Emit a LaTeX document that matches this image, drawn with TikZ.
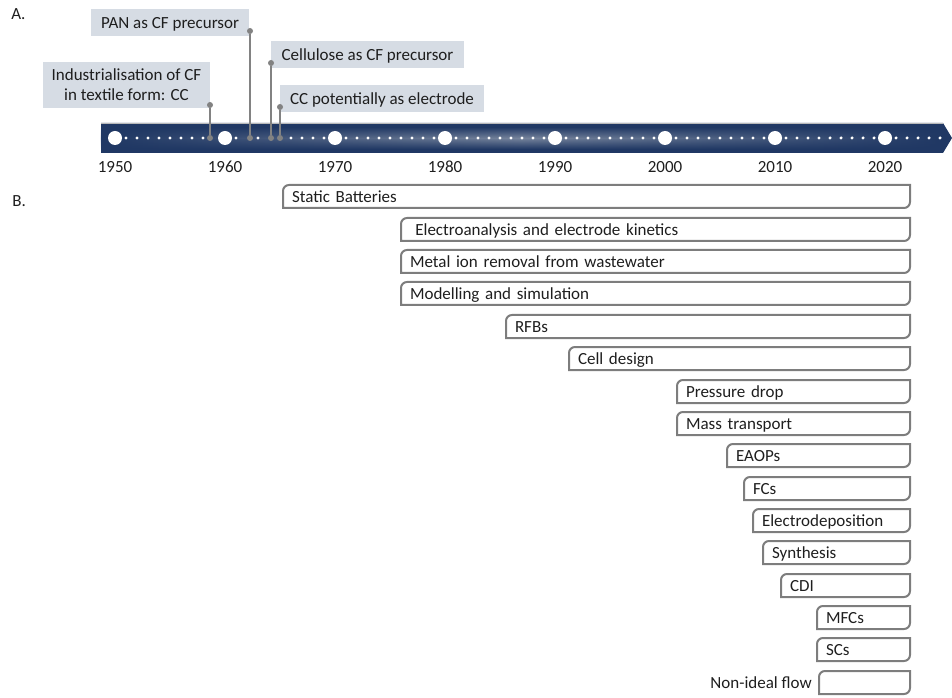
\documentclass[tikz,border=0pt]{standalone}
\usepackage{fontspec}
\setmainfont{Carlito}
\usetikzlibrary{fadings}
\definecolor{navy}{RGB}{32,56,100}
\definecolor{navyhi}{RGB}{118,132,156}
\definecolor{lblfill}{RGB}{214,220,228}
\definecolor{txtc}{RGB}{30,30,30}
\definecolor{msgray}{RGB}{130,130,130}
\definecolor{bargray}{RGB}{125,125,125}
\tikzfading[name=midband, top color=transparent!100, bottom color=transparent!100, middle color=transparent!0]
\newcommand\tlbar[4]{%
  \node[bartext, anchor=north west, text width={(910-#2-18)*0.75pt}] (#1) at (#2,#3) {#4};
  \draw[barline] (#1.south west) -- ([yshift=-4.5pt]#1.north west)
    arc[start angle=180, end angle=90, radius=4.5pt] -- (#1.north east)
    -- ([yshift=4.5pt]#1.south east) arc[start angle=0, end angle=-90, radius=4.5pt] -- cycle;}
\begin{document}
\begin{tikzpicture}[x=0.75pt,y=-0.75pt,
  every node/.style={text=txtc, font=\fontsize{12.75}{15}\selectfont},
  lbl/.style={fill=lblfill, inner sep=0pt, outer sep=0pt, align=center},
  oneline/.style={text height=9pt, text depth=0pt},
  yrlbl/.style={inner sep=0pt, anchor=base},
  bartext/.style={inner xsep=6.75pt, inner ysep=0pt, outer sep=0pt, minimum height=17.25pt, text height=9pt, text depth=0pt, align=left},
  barline/.style={draw=bargray, line width=1.5pt},
  msline/.style={draw=msgray, line width=1.1pt},
  msdot/.style={circle, fill=msgray, inner sep=0pt, minimum size=4.5pt},
  bigdot/.style={circle, fill=white, inner sep=0pt, minimum size=10.5pt},
]
\useasboundingbox (0,0) rectangle (952,698);

% section labels
\node[inner sep=0pt, anchor=base west] (secA) at (11,20) {A.};
\node[inner sep=0pt, anchor=base west] (secB) at (12,207) {B.};

% timeline bar
\fill[navy] (101,123) -- (943,123) -- (952,138) -- (943,153) -- (101,153) -- cycle;
\shade[left color=navy, right color=navy, middle color=navyhi, path fading=midband] (101,127) rectangle (943,149);
\draw[gray!55, line width=0.6pt] (101,123.3) -- (943,123.3);

% year dots
\foreach \d in {0,...,7}{
  \foreach \j in {1,...,9}{
    \pgfmathtruncatemacro\k{10*\d+\j}
    \ifnum\k>75 \else
    \ifnum\k=9 \else\ifnum\k=12 \else\ifnum\k=14 \else\ifnum\k=15 \else
      \fill[white] (115+11*\k,138) circle[radius=1.3pt];
    \fi\fi\fi\fi\fi
  }
}
\foreach \yr [count=\i from 0] in {1950,1960,...,2020}{
  \node[bigdot] (c\yr) at (115+110*\i,138) {};
  \node[yrlbl] (t\yr) at (115+110*\i,173) {\yr};
}

% milestone labels
\node[lbl, minimum width=125.25pt, minimum height=34.5pt, anchor=north east] (ind) at (210,62) {Industrialisation of CF\\in textile form: CC};
\node[lbl, oneline, minimum width=118.5pt, minimum height=20.25pt, anchor=north east] (pan) at (249,9) {PAN as CF precursor};
\node[lbl, oneline, minimum width=144.75pt, minimum height=20.25pt, anchor=north west] (cel) at (271,41) {Cellulose as CF precursor};
\node[lbl, oneline, minimum width=153pt, minimum height=20.25pt, anchor=north west] (ccp) at (280,85) {CC potentially as electrode};

% milestone markers
\node[msdot] (m1) at (210,138) {};
\node[msdot] (m2) at (250,138) {};
\node[msdot] (m3) at (271,138) {};
\node[msdot] (m4) at (280,138) {};
\node[msdot] (m1t) at (210,105) {};
\node[msdot] (m2t) at (250,31) {};
\node[msdot] (m3t) at (271,63) {};
\node[msdot] (m4t) at (280,107) {};
\draw[msline] (m1t) -- (m1);
\draw[msline] (m2t) -- (m2);
\draw[msline] (m3t) -- (m3);
\draw[msline] (m4t) -- (m4);

% research areas
\tlbar{sb}{283}{185}{Static Batteries}
\tlbar{ea}{401}{218}{\hspace*{4pt}Electroanalysis and electrode kinetics}
\tlbar{mi}{401}{250}{Metal ion removal from wastewater}
\tlbar{ms}{401}{282}{Modelling and simulation}
\tlbar{rfb}{506}{315}{RFBs}
\tlbar{cd}{569}{347}{Cell design}
\tlbar{pd}{677}{380}{Pressure drop}
\tlbar{mt}{677}{412}{Mass transport}
\tlbar{eaop}{727}{444}{EAOPs}
\tlbar{fc}{744}{477}{FCs}
\tlbar{ed}{753}{509}{Electrodeposition}
\tlbar{syn}{763}{541}{Synthesis}
\tlbar{cdi}{781}{574}{CDI}
\tlbar{mfc}{817}{606}{MFCs}
\tlbar{sc}{817}{638}{SCs}
\tlbar{nif}{819}{671}{}
\node[inner sep=0pt, anchor=east, text height=9pt, text depth=0pt] (niflbl) at ([xshift=-5.25pt]nif.west) {Non-ideal flow};
\end{tikzpicture}
\end{document}
